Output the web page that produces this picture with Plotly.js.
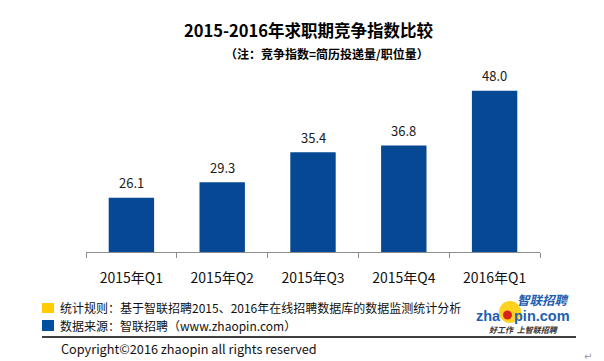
<!DOCTYPE html>
<html>
<head>
<meta charset="utf-8">
<script src="https://cdn.plot.ly/plotly-3.0.1.min.js"></script>
<style>html,body{margin:0;padding:0;background:#fff;}#chart{width:604px;height:361px;}</style>
</head>
<body>
<div id="chart"></div>
<script>
const categories = ["2015年Q1", "2015年Q2", "2015年Q3", "2015年Q4", "2016年Q1"];
const values = [26.1, 29.3, 35.4, 36.8, 48.0];
const valueLabels = ["26.1", "29.3", "35.4", "36.8", "48.0"];
const titleText = "2015-2016年求职期竞争指数比较";
const subtitleText = "（注：竞争指数=简历投递量/职位量）";
const note1 = "统计规则：基于智联招聘2015、2016年在线招聘数据库的数据监测统计分析";
const note2 = "数据来源：智联招聘（www.zhaopin.com）";
const copyright = "Copyright©2016 zhaopin all rights reserved";

const W = 604, H = 361;
const M = {l: 86, r: 64, t: 60, b: 109};
const PW = W - M.l - M.r, PH = H - M.t - M.b;
const px = x => (x - M.l) / PW;
const py = y => (H - M.b - y) / PH;
const CJK = "Noto Sans CJK SC, Noto Sans, sans-serif";

const annotations = [];
categories.forEach((c, i) => {
  annotations.push({x: c, y: values[i], xref: 'x', yref: 'y', text: valueLabels[i],
    showarrow: false, yanchor: 'middle', yshift: 15,
    font: {family: CJK, size: 13, color: '#1a1a1a'}});
});
function txt(text, x, y, opts) {
  annotations.push(Object.assign({text: text, x: px(x), y: py(y), xref: 'paper', yref: 'paper',
    showarrow: false, xanchor: 'left', yanchor: 'middle', borderpad: 0,
    font: {family: CJK, size: 12, color: '#111'}}, opts || {}));
}
txt('<b>' + titleText + '</b>', 308.5, 30, {xanchor: 'center', font: {family: CJK, size: 16.5, color: '#000'}});
txt('<b>' + subtitleText + '</b>', 326.5, 53, {xanchor: 'center', font: {family: CJK, size: 12, color: '#000'}});
txt(note1, 59, 307);
txt(note2, 59, 325);
txt(copyright, 60, 348, {font: {family: CJK, size: 12.7, color: '#111'}});
txt('<b><i>智联招聘</i></b>', 543, 299.5, {xanchor: 'center', font: {family: CJK, size: 12.5, color: '#1f5fb0'}});
txt('<b>zha</b>', 502, 316, {xanchor: 'right', font: {family: 'Liberation Sans, Arial, sans-serif', size: 14.5, color: '#1f5fb0'}});
txt('<b>pin.com</b>', 513, 316, {xanchor: 'left', font: {family: 'Liberation Sans, Arial, sans-serif', size: 14.5, color: '#1f5fb0'}});
txt('<b><i>好工作  上智联招聘</i></b>', 523, 329, {xanchor: 'center', font: {family: CJK, size: 8, color: '#333'}});
txt('↵', 588, 356, {xanchor: 'center', font: {family: 'DejaVu Sans, sans-serif', size: 10, color: '#999'}});

function rect(x0, y0, x1, y1, color) {
  return {type: 'rect', xref: 'paper', yref: 'paper', x0: px(x0), x1: px(x1), y0: py(y1), y1: py(y0),
    fillcolor: color, line: {width: 0}, layer: 'above'};
}
const shapes = [
  rect(42, 303, 54, 313, '#ffcc00'),
  rect(42, 320, 54, 331, '#0050a0'),
  {type: 'line', xref: 'paper', yref: 'paper', x0: px(42), x1: px(576), y0: py(337), y1: py(337),
    line: {color: '#000', width: 1.3}},
  {type: 'circle', xref: 'paper', yref: 'paper', x0: px(499), x1: px(521), y0: py(323), y1: py(301),
    fillcolor: '#ffd21f', line: {width: 0}, layer: 'below'},
  {type: 'circle', xref: 'paper', yref: 'paper', x0: px(503), x1: px(512), y0: py(319.5), y1: py(310.5),
    fillcolor: '#d9221c', line: {width: 0}, layer: 'above'}
];

const trace = {type: 'bar', x: categories, y: values, width: 0.5,
  marker: {color: '#064893'}, hoverinfo: 'none'};

const layout = {
  width: W, height: H, margin: M, paper_bgcolor: '#fff', plot_bgcolor: '#fff',
  showlegend: false, bargap: 0.5,
  xaxis: {type: 'category', showline: true, linecolor: '#8c8c8c', linewidth: 1,
    ticks: 'outside', tickson: 'boundaries', ticklen: 5, tickcolor: '#8c8c8c',
    ticklabelstandoff: 13,
    showgrid: false, zeroline: false,
    tickfont: {family: CJK, size: 14, color: '#111'}},
  yaxis: {range: [15, 15 + PH / 4.886], visible: false, showgrid: false, zeroline: false},
  annotations: annotations, shapes: shapes
};
Plotly.newPlot('chart', [trace], layout, {displayModeBar: false, staticPlot: true});
</script>
</body>
</html>
